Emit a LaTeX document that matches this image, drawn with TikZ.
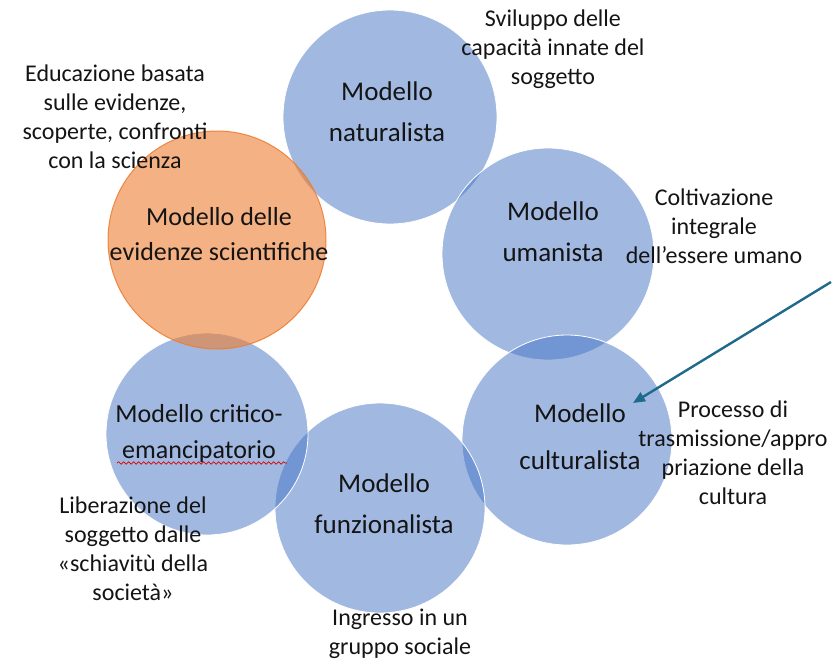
\documentclass[tikz,border=0pt]{standalone}
\usepackage{fontspec}
\setmainfont{Carlito}
\usetikzlibrary{arrows.meta,decorations.pathmorphing}
\definecolor{bluefill}{HTML}{4472C4}
\definecolor{orfill}{HTML}{ED7D31}
\definecolor{txt}{HTML}{141414}
\definecolor{arrowc}{HTML}{1F6A8A}
\begin{document}
\begin{tikzpicture}[x=1pt,y=-1pt,
  bluecirc/.style={circle,inner sep=0pt,fill=bluefill,fill opacity=0.5,draw=white,draw opacity=1,line width=0.8pt},
  orcirc/.style={circle,inner sep=0pt,fill=orfill,fill opacity=0.6,draw=orfill,draw opacity=0.9,line width=1pt},
  ctext/.style={align=center,text=txt,font=\fontsize{27}{41}\selectfont,inner sep=0pt},
  label/.style={align=center,text=txt,font=\fontsize{24}{29}\selectfont,inner sep=0pt}]
\useasboundingbox (0,0) rectangle (834,661);
% circles
\node[bluecirc,minimum size=214pt] (cnat) at (390,117) {};
\node[bluecirc,minimum size=212pt] (cuma) at (548,254) {};
\node[bluecirc,minimum size=210pt] (ccul) at (567,440) {};
\node[bluecirc,minimum size=210pt] (cfun) at (380,508) {};
\node[bluecirc,minimum size=202pt] (ccri) at (207,434) {};
\node[orcirc,minimum size=218pt] (cevi) at (217,240) {};
% circle texts
\node[ctext] (tnat) at (387,112) {Modello\\naturalista};
\node[ctext] (tuma) at (553,232) {Modello\\umanista};
\node[ctext,font=\fontsize{26}{35}\selectfont] (tevi) at (219,234) {Modello delle\\evidenze scientifiche};
\node[ctext,font=\fontsize{26}{36}\selectfont] (tcri) at (199,434) {Modello critico-\\emancipatorio};
\node[ctext] (tfun) at (384,504) {Modello\\funzionalista};
\node[ctext,font=\fontsize{27}{47}\selectfont] (tcul) at (580,437) {Modello\\culturalista};
% labels
\node[label] (lnat) at (553,49) {Sviluppo delle\\capacità innate del\\soggetto};
\node[label] (levi) at (115,117) {Educazione basata\\sulle evidenze,\\scoperte, confronti\\con la scienza};
\node[label] (luma) at (714,226) {Coltivazione\\integrale\\dell’essere umano};
\node[label] (lcul) at (733,453) {Processo di\\trasmissione/appro\\priazione della\\cultura};
\node[label] (lcri) at (133,549) {Liberazione del\\soggetto dalle\\«schiavitù della\\società»};
\node[label] (lfun) at (400,634) {Ingresso in un\\gruppo sociale};
% spell-check underline
\coordinate (ulA) at (117,463);
\coordinate (ulB) at (287,463);
\draw[red!85!black,line width=0.7pt,decorate,decoration={snake,amplitude=1.2pt,segment length=5pt}] (ulA) -- (ulB);
% arrow
\coordinate (arrS) at (831,282);
\coordinate (arrE) at (633,403);
\draw[arrowc,line width=2.4pt,-{Triangle[length=12pt,width=10pt]}] (arrS) -- (arrE);
\end{tikzpicture}
\end{document}
